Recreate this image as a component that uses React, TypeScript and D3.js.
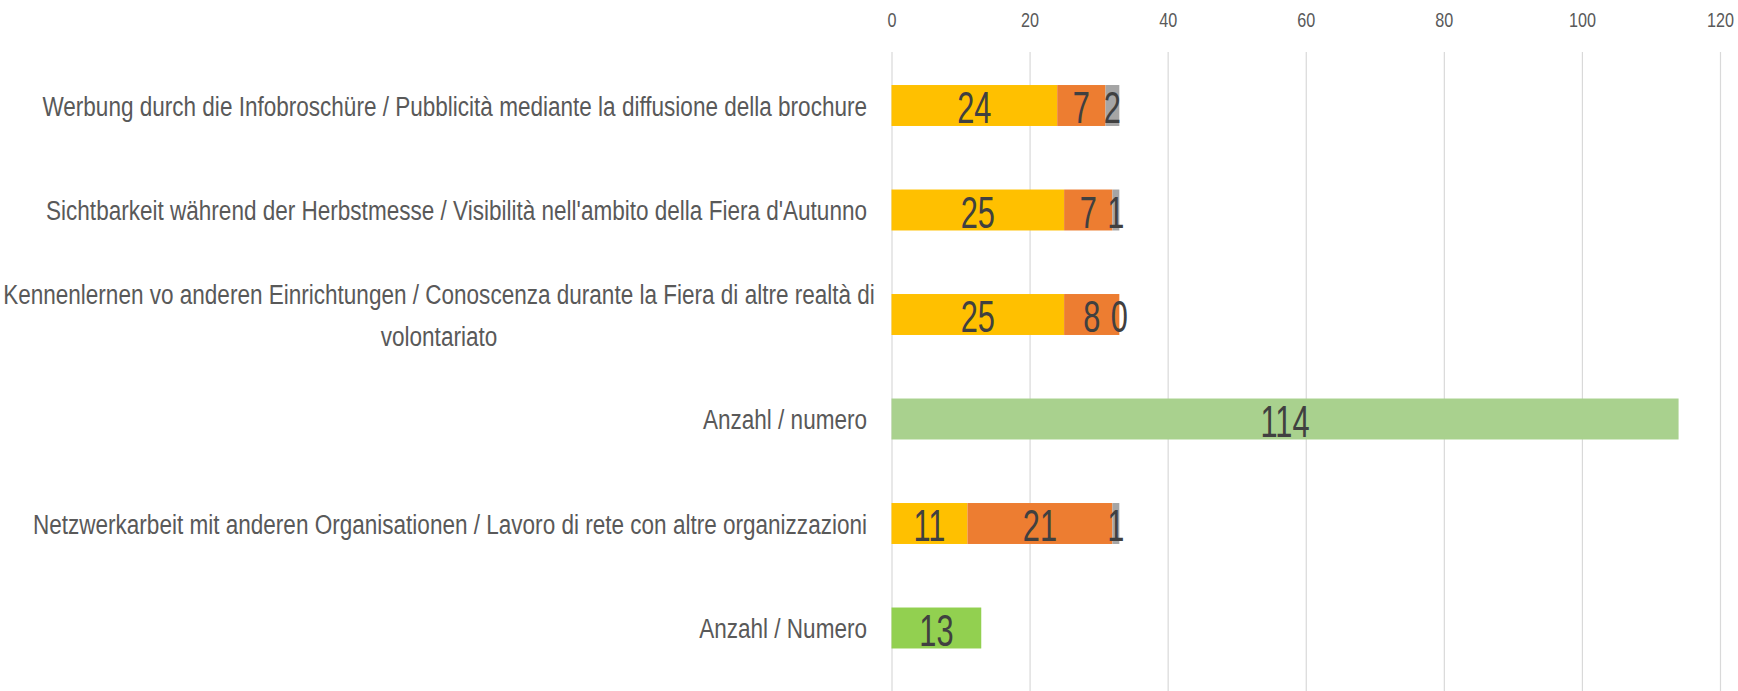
import React, { useEffect, useRef } from "react";
import * as d3 from "d3";

const WIDTH = 1738;
const HEIGHT = 691;
const FONT = "'Liberation Sans', Arial, sans-serif";

// categories, top to bottom (label lines)
const CATEGORIES = [
  "Werbung",
  "Sichtbarkeit",
  "Kennenlernen",
  "Anzahl1",
  "Netzwerkarbeit",
  "Anzahl2",
];
const LABELS = [
  ["Werbung durch die Infobroschüre / Pubblicità mediante la diffusione della brochure"],
  ["Sichtbarkeit während der Herbstmesse / Visibilità nell'ambito della Fiera d'Autunno"],
  ["Kennenlernen vo anderen Einrichtungen / Conoscenza durante la Fiera di altre realtà di", "volontariato"],
  ["Anzahl / numero"],
  ["Netzwerkarbeit mit anderen Organisationen / Lavoro di rete con altre organizzazioni"],
  ["Anzahl / Numero"],
];
// stacked series
const SERIES_A = [24, 25, 25, 0, 11, 0];
const SERIES_B = [7, 7, 8, 0, 21, 0];
const SERIES_C = [2, 1, 0, 0, 1, 0];
const COUNT = [0, 0, 0, 114, 0, 13];
const TICKS = [0, 20, 40, 60, 80, 100, 120];

const COLORS = { a: "#FFC000", b: "#ED7D31", c: "#A5A5A5" };
const COUNT_COLORS = ["#A9D18E", "#A9D18E", "#A9D18E", "#A9D18E", "#92D050", "#92D050"];
const X_SCALE = d3.scaleLinear().domain([0, 120]).range([891.5, 1720]);
const Y_SCALE = d3
  .scaleBand()
  .domain(CATEGORIES)
  .range([53.25, 680.25])
  .paddingInner(0.608)
  .paddingOuter(0.304);

const LABEL_X = 867;
const LABEL_SCALE = 0.805;
const VALUE_SCALE = 0.7;

export default function App() {
  const ref = useRef(null);

  useEffect(() => {
    document.body.style.margin = "0";
    const svg = d3.select(ref.current);
    svg.selectAll("*").remove();

    // grid
    svg
      .append("g")
      .attr("transform", "translate(0,52)")
      .call(d3.axisBottom(X_SCALE).tickValues(TICKS).tickSize(HEIGHT - 52).tickFormat(() => ""))
      .call((g) => g.select(".domain").remove())
      .call((g) => g.selectAll("line").attr("stroke", "#d9d9d9").attr("stroke-width", 1.2));

    // axis labels at the top
    svg
      .append("g")
      .attr("transform", "translate(0,27)")
      .call(d3.axisTop(X_SCALE).tickValues(TICKS).tickSize(0).tickPadding(0))
      .call((g) => g.select(".domain").remove())
      .call((g) =>
        g
          .selectAll("text")
          .attr("fill", "#595959")
          .attr("font-size", 19.5)
          .attr("font-family", FONT)
          .attr("transform", "scale(0.83,1)")
      );

    // stacked bars
    const stackData = CATEGORIES.map((c, i) => ({
      cat: c,
      a: SERIES_A[i],
      b: SERIES_B[i],
      c: SERIES_C[i],
      n: COUNT[i],
    }));
    const stack = d3.stack().keys(["a", "b", "c"])(stackData);
    const bars = svg.append("g");
    stack.forEach((layer) => {
      layer.forEach((d, i) => {
        if (COUNT[i]) return;
        bars
          .append("rect")
          .attr("x", X_SCALE(d[0]))
          .attr("y", Y_SCALE(CATEGORIES[i]))
          .attr("width", X_SCALE(d[1]) - X_SCALE(d[0]))
          .attr("height", Y_SCALE.bandwidth())
          .attr("fill", COLORS[layer.key]);
      });
    });
    stackData.forEach((d, i) => {
      if (!d.n) return;
      bars
        .append("rect")
        .attr("x", X_SCALE(0))
        .attr("y", Y_SCALE(d.cat))
        .attr("width", X_SCALE(d.n) - X_SCALE(0))
        .attr("height", Y_SCALE.bandwidth())
        .attr("fill", COUNT_COLORS[i]);
    });

    // value labels
    const valueLabel = (x, y, v) => {
      bars
        .append("text")
        .attr("transform", `translate(${x},${y}) scale(${VALUE_SCALE},1)`)
        .attr("text-anchor", "middle")
        .attr("font-family", FONT)
        .attr("font-size", 44)
        .attr("fill", "#404040")
        .text(v);
    };
    stack.forEach((layer) => {
      layer.forEach((d, i) => {
        if (COUNT[i]) return;
        const yc = Y_SCALE(CATEGORIES[i]) + Y_SCALE.bandwidth() / 2 + 17.5;
        valueLabel(X_SCALE((d[0] + d[1]) / 2), yc, d[1] - d[0]);
      });
    });
    stackData.forEach((d) => {
      if (!d.n) return;
      const yc = Y_SCALE(d.cat) + Y_SCALE.bandwidth() / 2 + 17.5;
      valueLabel(X_SCALE(d.n / 2), yc, d.n);
    });

    // category labels
    const labels = svg.append("g");
    CATEGORIES.forEach((c, i) => {
      const lines = LABELS[i];
      const yc = Y_SCALE(c) + Y_SCALE.bandwidth() / 2;
      const multi = lines.length > 1;
      lines.forEach((line, j) => {
        const y = yc + (j - (lines.length - 1) / 2) * 42 + 10;
        const x = multi ? (LABEL_X + 11) / 2 : LABEL_X;
        labels
          .append("text")
          .attr("transform", `translate(${x},${y}) scale(${LABEL_SCALE},1)`)
          .attr("text-anchor", multi ? "middle" : "end")
          .attr("font-family", FONT)
          .attr("font-size", 28)
          .attr("fill", "#595959")
          .text(line);
      });
    });
  }, []);

  return (
    <svg
      ref={ref}
      width={WIDTH}
      height={HEIGHT}
      style={{ position: "absolute", left: 0, top: 0, background: "#fff" }}
    />
  );
}
